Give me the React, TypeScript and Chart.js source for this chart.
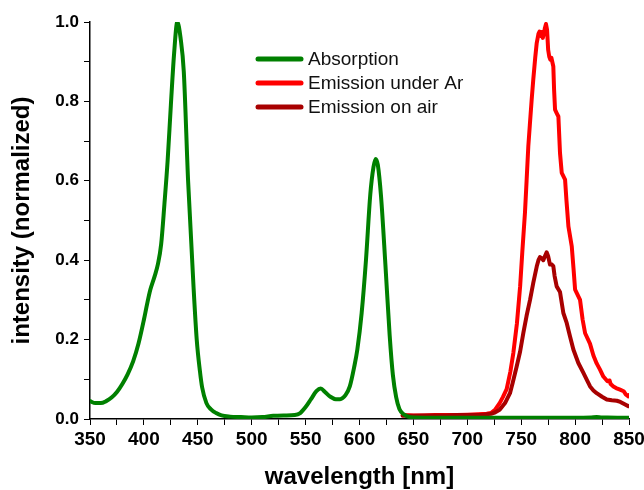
import React, { useEffect, useRef } from 'react';
import { Chart, registerables } from 'chart.js';

Chart.register(...registerables);

const seriesLabels = ['Absorption', 'Emission under Ar', 'Emission on air'];
const seriesColors = ['#008000', '#ff0000', '#a80000'];

const absWavelength = [
  350, 355, 360, 365, 370, 375, 380, 385, 390, 395, 400, 403, 406, 410, 413, 416, 419, 422, 425, 428,
  431, 434, 437, 441, 446, 449, 452, 454, 458, 462, 467, 472, 480, 490, 500, 510, 520, 530, 540, 545,
  550, 555, 560, 564, 568, 573, 578, 582, 587, 591, 595, 598, 602, 606, 610, 613, 615, 617, 620, 624,
  628, 631, 634, 637, 641, 645, 650, 700, 750, 800, 815, 820, 825, 830, 850,
];
const absIntensity = [
  0.045, 0.04, 0.04, 0.045, 0.054, 0.068, 0.088, 0.113, 0.145, 0.19, 0.25, 0.29, 0.326, 0.36, 0.39, 0.44, 0.54, 0.65, 0.79, 0.92,
  1.0, 0.96, 0.875, 0.6, 0.335, 0.2, 0.12, 0.08, 0.04, 0.025, 0.015, 0.009, 0.006, 0.005, 0.004, 0.005, 0.008, 0.009, 0.01, 0.015,
  0.03, 0.05, 0.07, 0.077, 0.068, 0.056, 0.05, 0.05, 0.06, 0.082, 0.13, 0.175, 0.267, 0.4, 0.565, 0.635, 0.655, 0.64, 0.56, 0.39,
  0.21, 0.11, 0.055, 0.025, 0.012, 0.006, 0.004, 0.003, 0.003, 0.003, 0.004, 0.005, 0.004, 0.004, 0.003,
];

const arWavelength = [
  640, 650, 660, 670, 680, 690, 700, 710, 718, 722, 726, 730, 733, 736.5, 740, 742.7, 746, 749, 751, 753.5,
  755, 756.6, 758, 759.7, 761.2, 763, 764.4, 766, 767, 768, 769, 770, 771, 772, 773, 774, 775, 776, 777, 778,
  779.8, 780.5, 781.4, 783, 784.5, 786, 787.6, 790.7, 792, 793.8, 796.9, 798.5, 800, 804.6, 807, 809.3, 813.8, 817, 820, 823,
  826.2, 830, 832, 833, 835.5, 838, 841.7, 845, 847, 849.4, 850,
];
const arIntensity = [
  0.01, 0.009, 0.009, 0.01, 0.01, 0.01, 0.011, 0.012, 0.013, 0.015, 0.024, 0.04, 0.055, 0.075, 0.12, 0.166, 0.24, 0.334, 0.42, 0.52,
  0.6, 0.687, 0.74, 0.804, 0.855, 0.91, 0.947, 0.97, 0.976, 0.965, 0.975, 0.96, 0.97, 0.985, 0.995, 0.98, 0.93, 0.913, 0.905, 0.91,
  0.888, 0.83, 0.779, 0.77, 0.762, 0.67, 0.62, 0.603, 0.55, 0.485, 0.435, 0.38, 0.326, 0.3, 0.25, 0.216, 0.19, 0.16, 0.14, 0.125,
  0.107, 0.095, 0.097, 0.088, 0.082, 0.078, 0.074, 0.07, 0.062, 0.057, 0.06,
];

const airWavelength = [
  640, 650, 660, 670, 680, 690, 700, 715, 722, 726, 730, 735, 739.6, 742, 745.8, 749, 752, 755, 758.2, 761.2,
  764.4, 766, 767.4, 769, 770.5, 772, 773.6, 775, 776.7, 778, 779.8, 781, 782.9, 786, 789.1, 792.2, 795.3, 798.4, 803, 807.7,
  811, 813.9, 817, 820, 825, 829.4, 834, 838.7, 842, 846, 849.4, 850,
];
const airIntensity = [
  0.008, 0.008, 0.009, 0.009, 0.009, 0.01, 0.01, 0.011, 0.013, 0.017, 0.023, 0.04, 0.065, 0.09, 0.132, 0.17, 0.217, 0.26, 0.3, 0.343,
  0.384, 0.4, 0.408, 0.405, 0.4, 0.41, 0.42, 0.41, 0.389, 0.39, 0.385, 0.36, 0.334, 0.32, 0.267, 0.242, 0.208, 0.175, 0.141, 0.116,
  0.098, 0.082, 0.072, 0.065, 0.056, 0.049, 0.047, 0.046, 0.043, 0.037, 0.032, 0.033,
];

const xMin = 350;
const xMax = 850;
const yMin = 0;
const yMax = 1.0;

const toPoints = (xs: number[], ys: number[]) => xs.map((x, i) => ({ x, y: ys[i] }));

const FONT = '"Liberation Sans", Arial, Helvetica, sans-serif';

const legendPlugin = {
  id: 'customLegend',
  afterDatasetsDraw(chart: any) {
    const ctx = chart.ctx;
    const { left, top } = chart.chartArea;
    chart.data.datasets.forEach((ds: any, i: number) => {
      const y = top + 37 + i * 24;
      ctx.save();
      ctx.strokeStyle = ds.borderColor;
      ctx.lineWidth = 5;
      ctx.lineCap = 'round';
      ctx.beginPath();
      ctx.moveTo(left + 168, y);
      ctx.lineTo(left + 211, y);
      ctx.stroke();
      ctx.fillStyle = '#111';
      ctx.font = `19px ${FONT}`;
      ctx.textBaseline = 'middle';
      ctx.textAlign = 'left';
      ctx.fillText(ds.label, left + 218, y + 1);
      ctx.restore();
    });
  },
};

export default function App() {
  const canvasRef = useRef<HTMLCanvasElement | null>(null);

  useEffect(() => {
    document.body.style.margin = '0';
    const canvas = canvasRef.current;
    if (!canvas) return;
    const chart = new Chart(canvas, {
      type: 'line',
      data: {
        datasets: [
          {
            label: seriesLabels[0],
            data: toPoints(absWavelength, absIntensity),
            borderColor: seriesColors[0],
            borderWidth: 4,
            pointRadius: 0,
            cubicInterpolationMode: 'monotone',
            order: 0,
          },
          {
            label: seriesLabels[1],
            data: toPoints(arWavelength, arIntensity),
            borderColor: seriesColors[1],
            borderWidth: 4,
            pointRadius: 0,
            tension: 0,
            order: 2,
          },
          {
            label: seriesLabels[2],
            data: toPoints(airWavelength, airIntensity),
            borderColor: seriesColors[2],
            borderWidth: 4,
            pointRadius: 0,
            tension: 0,
            order: 1,
          },
        ],
      },
      options: {
        animation: false,
        responsive: false,
        devicePixelRatio: 1,
        layout: { padding: { left: 0, right: 15, top: 22, bottom: 0 } },
        plugins: { legend: { display: false }, tooltip: { enabled: false } },
        elements: { line: { borderJoinStyle: 'round', borderCapStyle: 'round' } },
        scales: {
          x: {
            type: 'linear',
            min: xMin,
            max: xMax,
            afterFit: (s: any) => {
              s.height = 71;
              s.paddingLeft = 0;
              s.paddingRight = 0;
            },
            border: { display: true, color: '#000', width: 1.5 },
            grid: { drawOnChartArea: false, drawTicks: true, tickLength: 6, tickColor: '#000', tickWidth: 1 },
            ticks: {
              stepSize: 25,
              autoSkip: false,
              maxRotation: 0,
              padding: 3,
              color: '#000',
              font: { family: FONT, size: 19, weight: 'bold' },
              callback: (v: any) => (Math.round(v) % 50 === 0 ? String(Math.round(v)) : ''),
            },
            title: {
              display: true,
              text: 'wavelength [nm]',
              color: '#000',
              font: { family: FONT, size: 24, weight: 'bold', lineHeight: 1 },
              padding: { top: 0, bottom: 1 },
            },
          },
          y: {
            type: 'linear',
            min: yMin,
            max: yMax,
            afterFit: (s: any) => {
              s.width = 90;
              s.paddingTop = 0;
              s.paddingBottom = 0;
            },
            border: { display: true, color: '#000', width: 1.5 },
            grid: { drawOnChartArea: false, drawTicks: true, tickLength: 6, tickColor: '#000', tickWidth: 1 },
            ticks: {
              stepSize: 0.1,
              autoSkip: false,
              padding: 5,
              color: '#000',
              font: { family: FONT, size: 17, weight: 'bold' },
              callback: (v: any) => (Math.round(v * 10) % 2 === 0 ? Number(v).toFixed(1) : ''),
            },
            title: {
              display: true,
              text: 'intensity (normalized)',
              color: '#000',
              font: { family: FONT, size: 24, weight: 'bold', lineHeight: 1 },
              padding: { top: 10, bottom: 0 },
            },
          },
        },
      },
      plugins: [legendPlugin],
    } as any);
    return () => chart.destroy();
  }, []);

  return (
    <div style={{ width: 644, height: 490, background: '#fff' }}>
      <canvas ref={canvasRef} width={644} height={490} style={{ display: 'block' }} />
    </div>
  );
}
